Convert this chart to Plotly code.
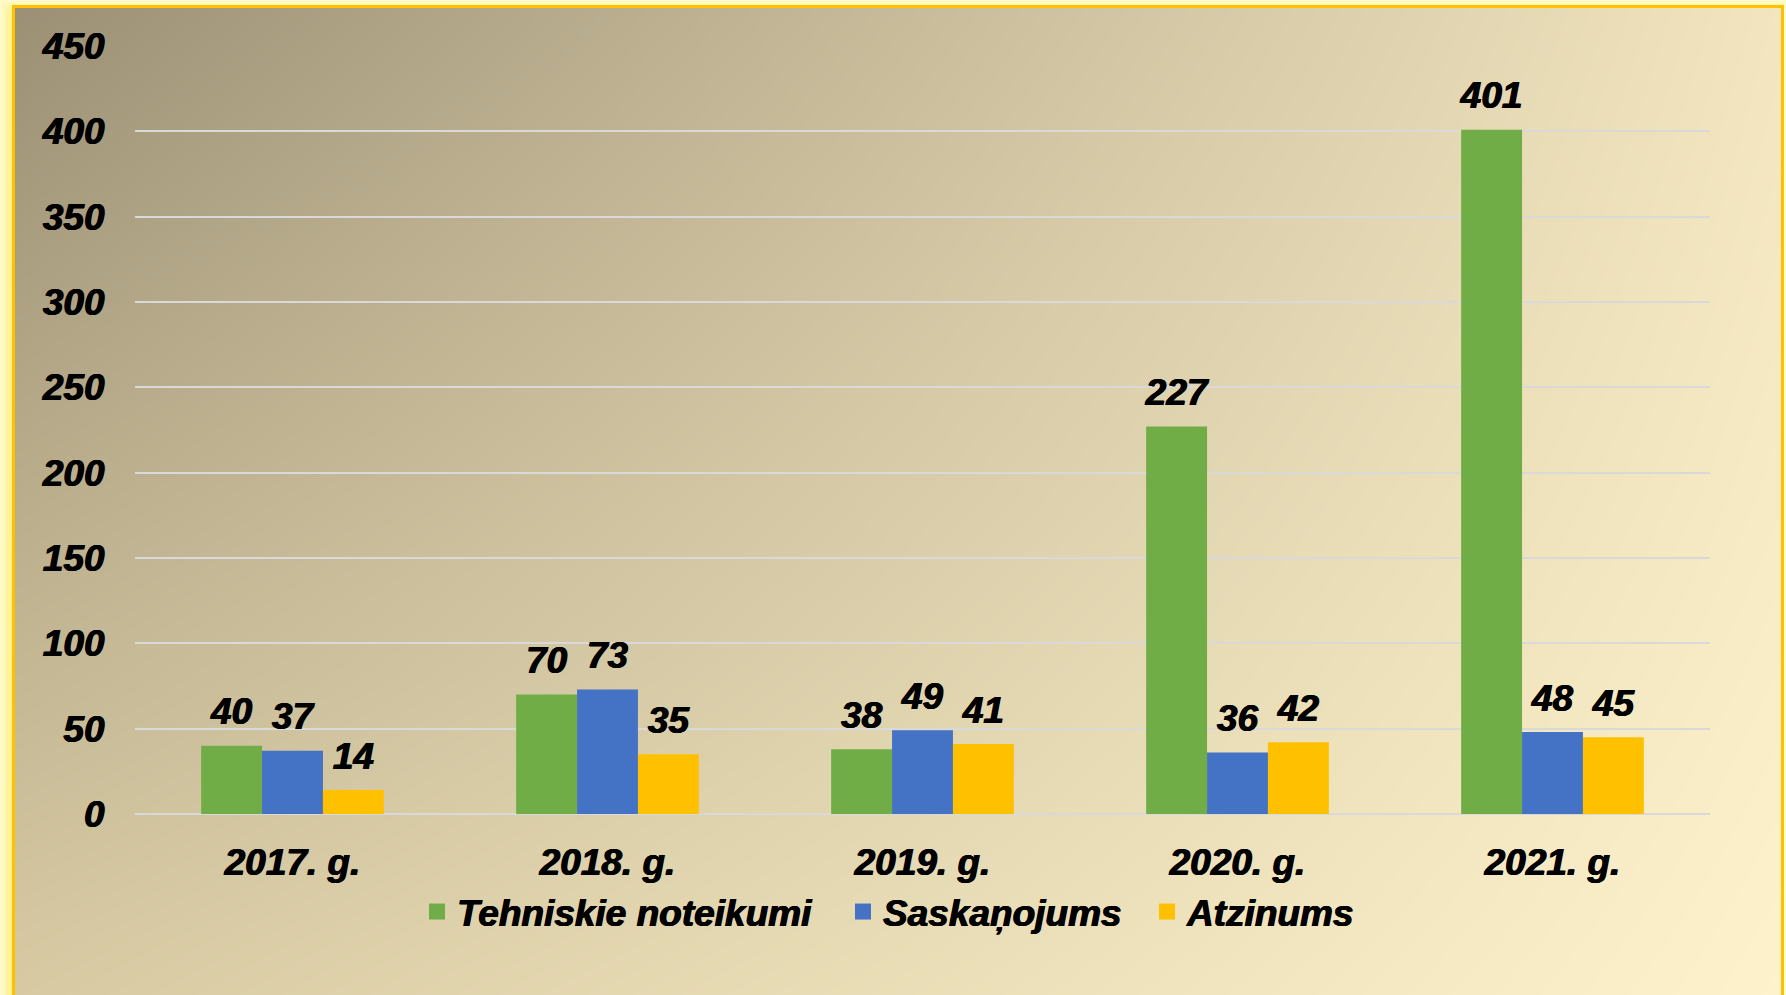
import base64
import zlib
import struct
import numpy as np
import plotly.graph_objects as go

# ---------------- data ----------------
categories = ["2017. g.", "2018. g.", "2019. g.", "2020. g.", "2021. g."]
tehniskie = [40, 70, 38, 227, 401]
saskanojums = [37, 73, 49, 36, 48]
atzinums = [14, 35, 41, 42, 45]
series_names = ["Tehniskie noteikumi", "Saskaņojums", "Atzinums"]
series_values = [tehniskie, saskanojums, atzinums]
series_colors = ["#70ad47", "#4472c4", "#ffc000"]
y_ticks = [0, 50, 100, 150, 200, 250, 300, 350, 400, 450]

# ---------------- geometry ----------------
W, H = 1786, 995
ML, MR, MT, MB = 135, 76, 46, 181
PW, PH = W - ML - MR, H - MT - MB


# ---------------- background image (gradient + frame) ----------------
def make_background():
    xs = np.linspace(0, 1, W)[None, :, None]
    ys = np.linspace(0, 1, H)[:, None, None]
    tl = np.array([154, 143, 116], float)
    tr = np.array([242, 229, 191], float)
    bl = np.array([215, 202, 163], float)
    br = np.array([253, 242, 204], float)
    top = tl * (1 - xs) + tr * xs
    bot = bl * (1 - xs) + br * xs
    img = top * (1 - ys) + bot * ys
    X = np.arange(W)[None, :]
    Y = np.arange(H)[:, None]
    fl, ft, fr = 12, 5, 1781
    dist = np.minimum(np.minimum(X - 0, W - 1 - X), Y - 0)
    outside = (X < fl) | (Y < ft) | (X > fr + 2)
    tglow = np.clip(dist / 12.0, 0, 1)[..., None]
    glow = np.array([255, 251, 205], float) * (1 - tglow) + np.array([255, 240, 130], float) * tglow
    img = np.where(outside[..., None], glow, img)
    frame = ((X >= fl) & (X < fl + 3) & (Y >= ft)) | ((Y >= ft) & (Y < ft + 3) & (X >= fl) & (X <= fr + 2)) | \
            ((X >= fr) & (X < fr + 3) & (Y >= ft))
    img = np.where(frame[..., None], np.array([255, 192, 0], float), img)
    arr = np.clip(np.round(img), 0, 255).astype(np.int16)
    f = arr.copy()
    f[:, 1:, :] = arr[:, 1:, :] - arr[:, :-1, :]
    f = (f % 256).astype(np.uint8).reshape(H, W * 3)
    raw = np.concatenate([np.ones((H, 1), np.uint8), f], axis=1).tobytes()

    def chunk(tag, data):
        c = struct.pack(">I", len(data)) + tag + data
        return c + struct.pack(">I", zlib.crc32(tag + data) & 0xffffffff)

    png = b"\x89PNG\r\n\x1a\n"
    png += chunk(b"IHDR", struct.pack(">IIBBBBB", W, H, 8, 2, 0, 0, 0))
    png += chunk(b"IDAT", zlib.compress(raw, 9))
    png += chunk(b"IEND", b"")
    return "data:image/png;base64," + base64.b64encode(png).decode()


FONT_FAMILY = "Liberation Sans, Arial, sans-serif"
FS = 37
font = dict(family=FONT_FAMILY, size=FS, color="black", weight="bold", style="italic",
            shadow="0.6px 0 0 black, -0.6px 0 0 black")

fig = go.Figure()
groups = ["a", "b", "c"]
legend_ids = ["legend", "legend2", "legend3"]
for name, vals, col, g in zip(series_names, series_values, series_colors, groups):
    fig.add_trace(go.Bar(
        x=categories, y=vals, name=name, marker=dict(color=col, line=dict(width=0)),
        offsetgroup=g, hoverinfo="x+y+name", showlegend=False,
    ))
for name, vals, col, g in zip(series_names, series_values, series_colors, groups):
    fig.add_trace(go.Scatter(
        x=categories, y=vals, mode="markers+text", text=[str(v) for v in vals],
        textposition="top center", textfont=font,
        marker=dict(size=18, opacity=0, color="rgba(0,0,0,0)"),
        offsetgroup=g, showlegend=False, hoverinfo="skip", cliponaxis=False,
    ))
# legend entries (square swatches), one legend each so they can be spaced like the original
for name, col, g, lid in zip(series_names, series_colors, groups, legend_ids):
    fig.add_trace(go.Scatter(
        x=[categories[0]], y=[None], mode="markers", name=name,
        marker=dict(symbol="square", size=16, color=col),
        offsetgroup=g, showlegend=True, hoverinfo="skip", legend=lid,
    ))

# left edges (px) of each legend entry's text in the original, minus the 40px symbol slot
legend_text_px = [457, 883, 1187]
legend_common = dict(orientation="h", xanchor="left", y=-98 / PH, yanchor="middle",
                     font=font, bgcolor="rgba(0,0,0,0)", itemsizing="trace", borderwidth=0)
legend_layouts = {
    lid: dict(legend_common, x=(px - 40 - ML) / PW) for lid, px in zip(legend_ids, legend_text_px)
}

fig.update_layout(
    width=W, height=H,
    margin=dict(l=ML, r=MR, t=MT, b=MB, pad=0),
    paper_bgcolor="rgba(0,0,0,0)", plot_bgcolor="rgba(0,0,0,0)",
    barmode="group", bargap=0.42, bargroupgap=0,
    scattermode="group", scattergap=0.42,
    font=font,
    showlegend=True,
    xaxis=dict(
        type="category", showgrid=False, zeroline=False, showline=False,
        ticks="outside", ticklen=16, tickcolor="rgba(0,0,0,0)", tickfont=font,
    ),
    yaxis=dict(
        range=[0, 450], tickvals=y_ticks, showgrid=True, gridcolor="#d9d9d9", gridwidth=2,
        zeroline=True, zerolinecolor="#d9d9d9", zerolinewidth=2, showline=False,
        ticks="outside", ticklen=22, tickcolor="rgba(0,0,0,0)", tickfont=font,
    ),
    images=[dict(
        source=make_background(), xref="paper", yref="paper",
        x=-ML / PW, y=1 + MT / PH, sizex=W / PW, sizey=H / PH,
        xanchor="left", yanchor="top", sizing="stretch", layer="below",
    )],
    **legend_layouts,
)

fig.write_html(
    "out.html",
    config={"displayModeBar": False},
    post_script="document.body.style.margin='0';document.body.style.overflow='hidden';",
)
